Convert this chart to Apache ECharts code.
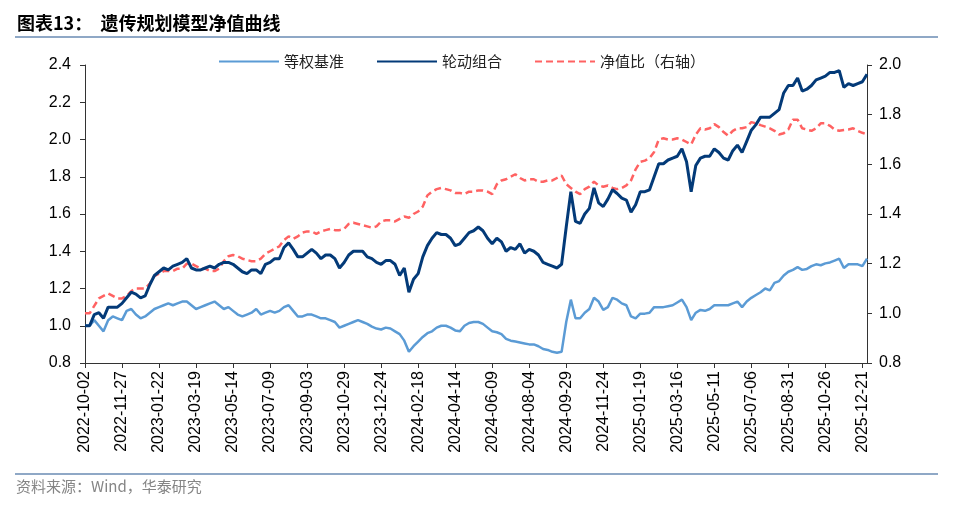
<!DOCTYPE html>
<html>
<head>
<meta charset="utf-8">
<script src="https://cdn.jsdelivr.net/npm/echarts@6/dist/echarts.min.js"></script>
<style>
html,body{margin:0;padding:0;background:#fff;}
#chart{width:979px;height:505px;}
</style>
</head>
<body>
<div id="chart"></div>
<script>
// Weekly categories starting 2022-10-02
const startDate = '2022-10-02';
const weekCount = 170;
const categories = [];
(function(){
  const d0 = new Date(startDate + 'T00:00:00Z');
  for (let i = 0; i < weekCount; i++) {
    const d = new Date(d0.getTime() + i * 7 * 86400000);
    categories.push(d.toISOString().slice(0, 10));
  }
})();

const seriesNames = ['等权基准', '轮动组合', '净值比（右轴）'];

// 等权基准 (left axis)
const benchmark = [
1.00,1.00,1.03,1.00,0.97,1.03,1.05,1.04,1.03,1.08,
1.09,1.06,1.04,1.05,1.07,1.09,1.10,1.11,1.12,1.11,
1.12,1.13,1.13,1.11,1.09,1.10,1.11,1.12,1.13,1.11,
1.09,1.10,1.08,1.06,1.05,1.06,1.07,1.09,1.06,1.07,
1.08,1.07,1.08,1.10,1.11,1.08,1.05,1.05,1.06,1.06,
1.05,1.04,1.04,1.03,1.02,0.99,1.00,1.01,1.02,1.03,
1.02,1.01,0.995,0.985,0.98,0.99,0.985,0.97,0.955,0.92,
0.86,0.89,0.915,0.94,0.96,0.97,0.99,1.00,1.00,0.99,
0.975,0.97,1.00,1.015,1.02,1.02,1.01,0.99,0.97,0.965,
0.955,0.93,0.92,0.915,0.91,0.905,0.90,0.90,0.89,0.875,
0.87,0.86,0.855,0.86,1.02,1.14,1.04,1.04,1.07,1.09,
1.15,1.13,1.085,1.10,1.15,1.14,1.12,1.11,1.05,1.04,
1.065,1.065,1.07,1.10,1.10,1.10,1.105,1.11,1.125,1.14,
1.10,1.03,1.07,1.085,1.08,1.09,1.11,1.11,1.11,1.11,
1.12,1.13,1.10,1.13,1.15,1.165,1.18,1.20,1.19,1.23,
1.24,1.27,1.29,1.30,1.315,1.30,1.305,1.32,1.33,1.325,
1.335,1.34,1.35,1.36,1.31,1.33,1.33,1.33,1.32,1.36
];

// 轮动组合 (left axis)
const rotation = [
1.00,1.00,1.06,1.07,1.04,1.10,1.10,1.10,1.12,1.15,
1.18,1.17,1.15,1.16,1.22,1.27,1.29,1.31,1.30,1.32,
1.33,1.34,1.36,1.31,1.30,1.30,1.31,1.32,1.31,1.33,
1.34,1.34,1.33,1.31,1.29,1.28,1.30,1.30,1.28,1.33,
1.34,1.36,1.36,1.42,1.445,1.41,1.37,1.37,1.39,1.41,
1.39,1.36,1.38,1.38,1.36,1.31,1.34,1.38,1.40,1.40,
1.40,1.37,1.36,1.34,1.33,1.35,1.35,1.33,1.27,1.31,
1.18,1.25,1.28,1.37,1.43,1.47,1.50,1.49,1.49,1.47,
1.43,1.44,1.47,1.50,1.51,1.53,1.51,1.47,1.44,1.47,
1.45,1.40,1.42,1.41,1.44,1.39,1.41,1.40,1.38,1.34,
1.33,1.32,1.31,1.33,1.53,1.72,1.56,1.55,1.60,1.63,
1.74,1.66,1.64,1.68,1.73,1.71,1.685,1.675,1.61,1.65,
1.72,1.72,1.73,1.80,1.87,1.87,1.89,1.90,1.91,1.95,
1.88,1.72,1.86,1.90,1.91,1.91,1.95,1.93,1.90,1.89,
1.94,1.97,1.93,1.99,2.05,2.08,2.12,2.12,2.12,2.14,
2.16,2.25,2.29,2.29,2.33,2.26,2.27,2.29,2.32,2.33,
2.34,2.36,2.36,2.37,2.28,2.30,2.29,2.30,2.31,2.35
];

// 净值比 (right axis)
const ratio = [
1.00,1.00,1.03,1.06,1.07,1.08,1.07,1.06,1.06,1.07,
1.09,1.10,1.10,1.10,1.12,1.15,1.16,1.17,1.17,1.17,
1.18,1.18,1.20,1.20,1.19,1.18,1.18,1.17,1.17,1.18,
1.21,1.23,1.235,1.23,1.22,1.215,1.21,1.21,1.22,1.24,
1.25,1.26,1.27,1.295,1.31,1.30,1.31,1.325,1.33,1.33,
1.32,1.33,1.335,1.34,1.335,1.335,1.34,1.36,1.365,1.36,
1.355,1.35,1.345,1.35,1.37,1.375,1.375,1.37,1.38,1.39,
1.385,1.40,1.41,1.43,1.475,1.49,1.50,1.505,1.50,1.495,
1.485,1.485,1.48,1.49,1.49,1.495,1.495,1.49,1.48,1.52,
1.535,1.54,1.55,1.56,1.545,1.535,1.54,1.54,1.53,1.53,
1.535,1.535,1.545,1.555,1.52,1.505,1.49,1.48,1.50,1.51,
1.53,1.515,1.51,1.515,1.505,1.50,1.505,1.515,1.535,1.58,
1.61,1.615,1.625,1.65,1.70,1.705,1.70,1.70,1.705,1.70,
1.69,1.68,1.72,1.745,1.74,1.745,1.762,1.75,1.73,1.715,
1.735,1.745,1.745,1.75,1.77,1.765,1.758,1.752,1.745,1.735,
1.72,1.725,1.74,1.78,1.78,1.745,1.74,1.735,1.745,1.765,
1.765,1.755,1.74,1.735,1.738,1.74,1.745,1.735,1.727,1.72
];

const titleText = '图表13：  遗传规划模型净值曲线';
const sourceText = '资料来源：Wind，华泰研究';

const chart = echarts.init(document.getElementById('chart'), null, {renderer: 'canvas'});
const axisFont = 'Liberation Sans, Arial, sans-serif';
const cjkFont = 'Noto Sans CJK SC, sans-serif';

chart.setOption({
  backgroundColor: '#ffffff',
  animation: false,
  graphic: [
    {type: 'text', left: 17, top: 14, style: {text: titleText, font: 'bold 18px ' + cjkFont, fill: '#000'}},
    {type: 'rect', shape: {x: 15, y: 36, width: 923, height: 2}, style: {fill: '#8FA8C6'}},
    {type: 'rect', shape: {x: 15, y: 473, width: 923, height: 2}, style: {fill: '#8FA8C6'}},
    {type: 'text', left: 16, top: 479, style: {text: sourceText, font: '15px ' + cjkFont, fill: '#858585'}}
  ],
  legend: {
    data: seriesNames,
    left: 218,
    top: 54,
    padding: 0,
    itemWidth: 60,
    itemHeight: 16,
    itemGap: 32,
    itemStyle: {opacity: 0},
    textStyle: {fontFamily: cjkFont, fontSize: 15, color: '#222'}
  },
  grid: {left: 85, right: 112, top: 65, bottom: 142, containLabel: false},
  xAxis: {
    type: 'category',
    data: categories,
    boundaryGap: false,
    axisLine: {lineStyle: {color: '#333', width: 1}},
    axisTick: {show: true, interval: 7, length: 5, lineStyle: {color: '#333'}},
    axisLabel: {interval: 7, rotate: 90, margin: 8, fontFamily: axisFont, fontSize: 16, color: '#000'},
    splitLine: {show: false}
  },
  yAxis: [
    {
      type: 'value', min: 0.8, max: 2.4, interval: 0.2, position: 'left',
      axisLine: {show: true, lineStyle: {color: '#333'}},
      axisTick: {show: true, length: 5, lineStyle: {color: '#333'}},
      axisLabel: {margin: 14, fontFamily: axisFont, fontSize: 16, color: '#000', formatter: v => v.toFixed(1)},
      splitLine: {show: false}
    },
    {
      type: 'value', min: 0.8, max: 2.0, interval: 0.2, position: 'right',
      axisLine: {show: true, lineStyle: {color: '#333'}},
      axisTick: {show: true, length: 5, lineStyle: {color: '#333'}},
      axisLabel: {margin: 12, fontFamily: axisFont, fontSize: 16, color: '#000', formatter: v => v.toFixed(1)},
      splitLine: {show: false}
    }
  ],
  series: [
    {name: seriesNames[0], type: 'line', yAxisIndex: 0, data: benchmark, symbol: 'none',
     lineStyle: {color: '#5B9BD5', width: 2.5}, itemStyle: {color: '#5B9BD5'}},
    {name: seriesNames[2], type: 'line', yAxisIndex: 1, data: ratio, symbol: 'none',
     lineStyle: {color: '#FF6262', width: 2.5, type: [7, 4]}, itemStyle: {color: '#FF6262'}},
    {name: seriesNames[1], type: 'line', yAxisIndex: 0, data: rotation, symbol: 'none',
     lineStyle: {color: '#033A78', width: 3}, itemStyle: {color: '#033A78'}}
  ]
});
</script>
</body>
</html>
